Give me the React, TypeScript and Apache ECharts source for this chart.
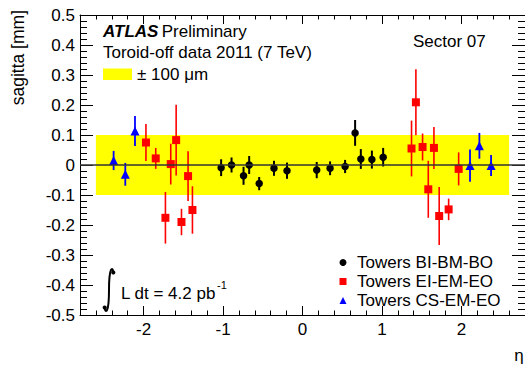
import React, { useEffect, useRef } from "react";
import * as echarts from "echarts";

const FONT = "Liberation Sans";

// Towers BI-BM-BO (black circles)
const biEta = [-1.024, -0.893, -0.742, -0.671, -0.545, -0.359, -0.195, 0.179, 0.347, 0.536, 0.662, 0.734, 0.873, 1.015];
const biVal = [-0.009, 0.0, -0.036, 0.0, -0.062, -0.011, -0.019, -0.017, -0.011, -0.005, 0.107, 0.02, 0.018, 0.026];
const biErr = [0.028, 0.025, 0.03, 0.03, 0.022, 0.025, 0.027, 0.027, 0.023, 0.022, 0.043, 0.033, 0.03, 0.031];

// Towers EI-EM-EO (red squares)
const eiEta = [-1.97, -1.847, -1.725, -1.658, -1.59, -1.523, -1.44, -1.385, 1.372, 1.427, 1.511, 1.583, 1.654, 1.72, 1.839, 1.965];
const eiVal = [0.075, 0.022, -0.176, 0.003, 0.083, -0.19, -0.037, -0.15, 0.055, 0.209, 0.06, -0.081, 0.057, -0.17, -0.148, -0.013];
const eiErr = [0.062, 0.035, 0.086, 0.068, 0.118, 0.044, 0.083, 0.079, 0.093, 0.11, 0.045, 0.095, 0.07, 0.097, 0.036, 0.055];

// Towers CS-EM-EO (blue triangles)
const csEta = [-2.377, -2.23, -2.108, 2.108, 2.226, 2.373];
const csVal = [0.015, -0.031, 0.113, -0.002, 0.064, -0.002];
const csErr = [0.032, 0.038, 0.05, 0.054, 0.043, 0.035];

// ±100 µm band
const bandEta = [-2.6, 2.6];
const bandSagitta = [-0.1, 0.1];

const xMajorTicks = [-2, -1, 0, 1, 2];
const seriesNames = ["Towers BI-BM-BO", "Towers EI-EM-EO", "Towers CS-EM-EO"];

export default function App() {
  const ref = useRef<HTMLDivElement>(null);

  useEffect(() => {
    const chart = echarts.init(ref.current!, null, { renderer: "svg" });

    const errSeries = (eta: number[], val: number[], err: number[], color: string, width: number) => ({
      type: "custom",
      silent: true,
      z: 3,
      data: eta.map((e, i) => [e, val[i] - err[i], val[i] + err[i]]),
      encode: { x: 0, y: [1, 2] },
      renderItem: (_p: any, api: any) => {
        const a = api.coord([api.value(0), api.value(1)]);
        const b = api.coord([api.value(0), api.value(2)]);
        return {
          type: "line",
          shape: { x1: a[0], y1: a[1], x2: b[0], y2: b[1] },
          style: { stroke: color, lineWidth: width },
        };
      },
    });

    const pts = (eta: number[], val: number[]) => eta.map((e, i) => [e, val[i]]);

    const xBase = {
      type: "value",
      min: -2.8,
      max: 2.8,
      splitLine: { show: false },
    };
    const yBase = {
      type: "value",
      min: -0.5,
      max: 0.5,
      interval: 0.1,
      splitLine: { show: false },
      axisLine: { show: true, onZero: false, lineStyle: { color: "#000", width: 1 } },
      axisTick: { show: true, inside: true, length: 13, lineStyle: { color: "#000" } },
      minorTick: { show: true, splitNumber: 5, length: 7, lineStyle: { color: "#000" } },
    };

    const option: any = {
      animation: false,
      backgroundColor: "#fff",
      grid: { left: 80, top: 15, width: 445, height: 300, containLabel: false },
      xAxis: [
        {
          ...xBase,
          position: "bottom",
          axisLine: { show: true, onZero: false, lineStyle: { color: "#000", width: 1 } },
          axisTick: { show: true, inside: true, length: 9, customValues: xMajorTicks, lineStyle: { color: "#000" } },
          axisLabel: { customValues: xMajorTicks, fontSize: 17, fontFamily: FONT, color: "#000", margin: 6 },
        },
        {
          ...xBase,
          interval: 0.2,
          position: "bottom",
          axisLine: { show: false, onZero: false },
          axisTick: { show: true, inside: true, length: 4.5, lineStyle: { color: "#000" } },
          axisLabel: { show: false },
        },
        {
          ...xBase,
          position: "top",
          axisLine: { show: true, onZero: false, lineStyle: { color: "#000", width: 1 } },
          axisTick: { show: true, inside: true, length: 9, customValues: xMajorTicks, lineStyle: { color: "#000" } },
          axisLabel: { show: false },
        },
        {
          ...xBase,
          interval: 0.2,
          position: "top",
          axisLine: { show: false, onZero: false },
          axisTick: { show: true, inside: true, length: 4.5, lineStyle: { color: "#000" } },
          axisLabel: { show: false },
        },
      ],
      yAxis: [
        {
          ...yBase,
          position: "left",
          axisLabel: { fontSize: 17, fontFamily: FONT, color: "#000", margin: 5 },
        },
        {
          ...yBase,
          position: "right",
          axisLabel: { show: false },
        },
      ],
      legend: {
        data: seriesNames,
        orient: "vertical",
        left: 339.5,
        top: 253,
        padding: 0,
        itemGap: 0,
        itemWidth: 7,
        itemHeight: 7,
        selectedMode: false,
        textStyle: { fontSize: 17, lineHeight: 19, fontFamily: FONT, color: "#000", padding: [0, 0, 0, 5.5] },
      },
      series: [
        {
          type: "scatter",
          data: [],
          silent: true,
          z: 1,
          markArea: {
            silent: true,
            itemStyle: { color: "#ffff00", opacity: 1 },
            label: { show: false },
            data: [[{ xAxis: bandEta[0], yAxis: bandSagitta[0] }, { xAxis: bandEta[1], yAxis: bandSagitta[1] }]],
          },
          markLine: {
            silent: true,
            symbol: "none",
            label: { show: false },
            lineStyle: { color: "#333", width: 1.5, type: "solid" },
            data: [{ yAxis: 0 }],
          },
        },
        errSeries(biEta, biVal, biErr, "#000000", 2),
        errSeries(eiEta, eiVal, eiErr, "#ff0000", 1.6),
        errSeries(csEta, csVal, csErr, "#0000ff", 1.8),
        {
          name: seriesNames[0],
          type: "scatter",
          z: 4,
          symbol: "circle",
          symbolSize: 7.5,
          itemStyle: { color: "#000000", opacity: 1 },
          data: pts(biEta, biVal),
        },
        {
          name: seriesNames[1],
          type: "scatter",
          z: 4,
          symbol: "rect",
          symbolSize: 8,
          itemStyle: { color: "#ff0000", opacity: 1 },
          data: pts(eiEta, eiVal),
        },
        {
          name: seriesNames[2],
          type: "scatter",
          z: 4,
          symbol: "triangle",
          symbolSize: 9,
          itemStyle: { color: "#0000ff", opacity: 1 },
          data: pts(csEta, csVal),
        },
      ],
      graphic: [
        {
          type: "text",
          x: 103,
          y: 31,
          style: {
            text: "{a|ATLAS} {b|Preliminary}",
            verticalAlign: "middle",
            fill: "#000",
            rich: {
              a: { fontSize: 17, fontFamily: FONT, fontWeight: "bold", fontStyle: "italic", fill: "#000" },
              b: { fontSize: 17, fontFamily: FONT, fill: "#000" },
            },
          },
        },
        {
          type: "text",
          x: 103,
          y: 52.5,
          style: { text: "Toroid-off data 2011 (7 TeV)", fontSize: 17, fontFamily: FONT, fill: "#000", verticalAlign: "middle" },
        },
        {
          type: "rect",
          shape: { x: 103, y: 68.5, width: 29, height: 11.5 },
          style: { fill: "#ffff00" },
        },
        {
          type: "text",
          x: 137,
          y: 74,
          style: { text: "± 100 μm", fontSize: 17, fontFamily: FONT, fill: "#000", verticalAlign: "middle" },
        },
        {
          type: "text",
          x: 413,
          y: 41.5,
          style: { text: "Sector 07", fontSize: 17, fontFamily: FONT, fill: "#000", verticalAlign: "middle" },
        },
        {
          type: "bezierCurve",
          shape: { x1: 113.5, y1: 272.5, cpx1: 112.8, cpy1: 266.5, cpx2: 109, cpy2: 266, x2: 109, y2: 290 },
          style: { stroke: "#000", lineWidth: 2, fill: null },
        },
        {
          type: "bezierCurve",
          shape: { x1: 109, y1: 290, cpx1: 109, cpy1: 314, cpx2: 105.2, cpy2: 313.5, x2: 104.5, y2: 307.5 },
          style: { stroke: "#000", lineWidth: 2, fill: null },
        },
        { type: "circle", shape: { cx: 113.3, cy: 272.5, r: 2.1 }, style: { fill: "#000" } },
        { type: "circle", shape: { cx: 104.7, cy: 307.5, r: 2.1 }, style: { fill: "#000" } },
        {
          type: "text",
          x: 121,
          y: 293,
          style: { text: "L dt = 4.2 pb", fontSize: 17, fontFamily: FONT, fill: "#000", verticalAlign: "middle" },
        },
        {
          type: "text",
          x: 217,
          y: 285,
          style: { text: "-1", fontSize: 11, fontFamily: FONT, fill: "#000", verticalAlign: "middle" },
        },
        {
          type: "text",
          x: 18,
          y: 10,
          rotation: Math.PI / 2,
          style: { text: "sagitta [mm]", fontSize: 17.5, fontFamily: FONT, fill: "#000", align: "right", verticalAlign: "middle" },
        },
        {
          type: "text",
          x: 519,
          y: 355,
          style: { text: "η", fontSize: 17, fontFamily: FONT, fill: "#000", align: "center", verticalAlign: "middle" },
        },
      ],
    };

    chart.setOption(option);
    return () => chart.dispose();
  }, []);

  return <div ref={ref} style={{ position: "fixed", left: 0, top: 0, width: 525, height: 365 }} />;
}
